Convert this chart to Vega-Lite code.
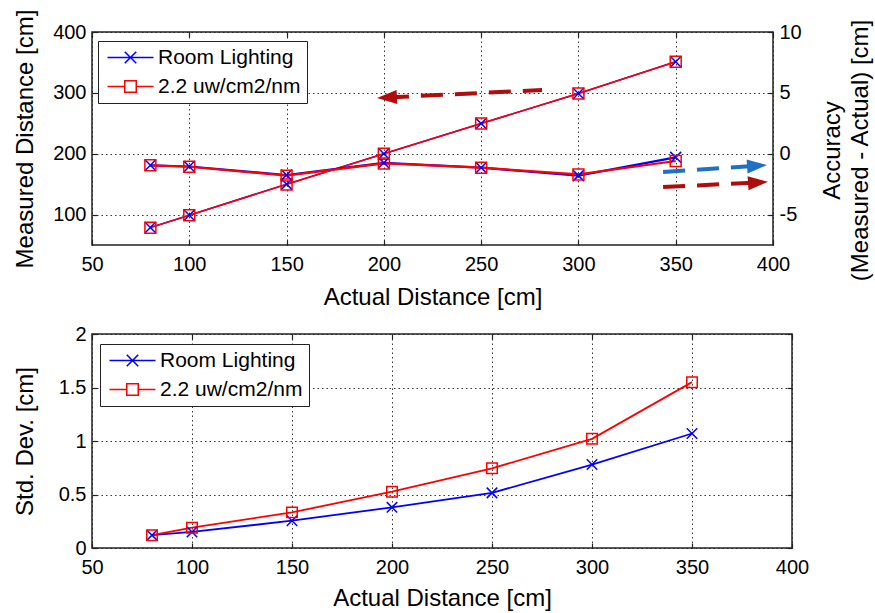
{
  "$schema": "https://vega.github.io/schema/vega-lite/v6.json",
  "padding": {"left": 12, "top": 8, "right": 2, "bottom": 2},
  "background": "white",
  "datasets": {
    "measured": [
      {"series": "Room Lighting", "actual": 80, "measured": 78.8},
      {"series": "Room Lighting", "actual": 100, "measured": 99},
      {"series": "Room Lighting", "actual": 150, "measured": 150},
      {"series": "Room Lighting", "actual": 200, "measured": 200},
      {"series": "Room Lighting", "actual": 250, "measured": 249.5},
      {"series": "Room Lighting", "actual": 300, "measured": 299},
      {"series": "Room Lighting", "actual": 350, "measured": 351},
      {"series": "2.2 uw/cm2/nm", "actual": 80, "measured": 78.5},
      {"series": "2.2 uw/cm2/nm", "actual": 100, "measured": 99},
      {"series": "2.2 uw/cm2/nm", "actual": 150, "measured": 149.5},
      {"series": "2.2 uw/cm2/nm", "actual": 200, "measured": 200},
      {"series": "2.2 uw/cm2/nm", "actual": 250, "measured": 249.5},
      {"series": "2.2 uw/cm2/nm", "actual": 300, "measured": 299},
      {"series": "2.2 uw/cm2/nm", "actual": 350, "measured": 351}
    ],
    "accuracy": [
      {"series": "Room Lighting", "actual": 80, "accuracy": -0.95},
      {"series": "Room Lighting", "actual": 100, "accuracy": -1.05},
      {"series": "Room Lighting", "actual": 150, "accuracy": -1.75},
      {"series": "Room Lighting", "actual": 200, "accuracy": -0.75},
      {"series": "Room Lighting", "actual": 250, "accuracy": -1.15},
      {"series": "Room Lighting", "actual": 300, "accuracy": -1.8},
      {"series": "Room Lighting", "actual": 350, "accuracy": -0.3},
      {"series": "2.2 uw/cm2/nm", "actual": 80, "accuracy": -0.95},
      {"series": "2.2 uw/cm2/nm", "actual": 100, "accuracy": -1.07},
      {"series": "2.2 uw/cm2/nm", "actual": 150, "accuracy": -1.8},
      {"series": "2.2 uw/cm2/nm", "actual": 200, "accuracy": -0.8},
      {"series": "2.2 uw/cm2/nm", "actual": 250, "accuracy": -1.15},
      {"series": "2.2 uw/cm2/nm", "actual": 300, "accuracy": -1.7},
      {"series": "2.2 uw/cm2/nm", "actual": 350, "accuracy": -0.6}
    ],
    "std": [
      {"series": "Room Lighting", "actual": 80, "std": 0.12},
      {"series": "Room Lighting", "actual": 100, "std": 0.15},
      {"series": "Room Lighting", "actual": 150, "std": 0.255},
      {"series": "Room Lighting", "actual": 200, "std": 0.38},
      {"series": "Room Lighting", "actual": 250, "std": 0.515},
      {"series": "Room Lighting", "actual": 300, "std": 0.78},
      {"series": "Room Lighting", "actual": 350, "std": 1.07},
      {"series": "2.2 uw/cm2/nm", "actual": 80, "std": 0.12},
      {"series": "2.2 uw/cm2/nm", "actual": 100, "std": 0.19},
      {"series": "2.2 uw/cm2/nm", "actual": 150, "std": 0.333},
      {"series": "2.2 uw/cm2/nm", "actual": 200, "std": 0.526},
      {"series": "2.2 uw/cm2/nm", "actual": 250, "std": 0.745},
      {"series": "2.2 uw/cm2/nm", "actual": 300, "std": 1.02},
      {"series": "2.2 uw/cm2/nm", "actual": 350, "std": 1.55}
    ],
    "arrows": [
      {"arrow": "a1", "x": 281.3, "y": 304.7},
      {"arrow": "a1", "x": 201.6, "y": 292.4},
      {"arrow": "a2", "x": 343.5, "y": 170},
      {"arrow": "a2", "x": 391.8, "y": 180.3},
      {"arrow": "a3", "x": 343.5, "y": 145.3},
      {"arrow": "a3", "x": 392.3, "y": 152.7}
    ],
    "heads": [
      {"arrow": "a1", "dir": "left", "x": 201.6, "y": 292.4},
      {"arrow": "a2", "dir": "right", "x": 391.8, "y": 180.3},
      {"arrow": "a3", "dir": "right", "x": 392.3, "y": 152.7}
    ]
  },
  "spacing": 13,
  "resolve": {"scale": {"color": "independent", "shape": "independent"}, "legend": {"color": "independent", "shape": "independent"}},
  "vconcat": [
    {
      "width": 681,
      "height": 213,
      "resolve": {"scale": {"y": "independent"}, "axis": {"x": "independent", "y": "independent"}},
      "layer": [
        {
          "data": {"name": "measured"},
          "mark": {"type": "line", "strokeWidth": 1.5},
          "encoding": {
            "x": {"field": "actual", "type": "quantitative", "scale": {"domain": [50, 400], "nice": false, "zero": false},
                  "axis": {"title": "Actual Distance [cm]", "values": [50, 100, 150, 200, 250, 300, 350, 400], "grid": true, "titleY": 52, "titleBaseline": "middle"}},
            "y": {"field": "measured", "type": "quantitative", "scale": {"domain": [50, 400], "nice": false, "zero": false},
                  "axis": {"title": "Measured Distance [cm]", "orient": "left", "values": [100, 200, 300, 400], "grid": true, "titleX": -67, "titleBaseline": "middle"}},
            "color": {"field": "series", "type": "nominal", "sort": ["Room Lighting", "2.2 uw/cm2/nm"], "scale": {"range": ["#0000ff", "#ff0000"]},
              "legend": {
                "title": null, "orient": "none", "legendX": 6, "legendY": 9, "direction": "vertical",
                "strokeColor": "#222", "fillColor": "white", "padding": 6, "cornerRadius": 0,
                "symbolSize": 132, "symbolStrokeWidth": 1.5, "symbolOffset": 16, "labelOffset": 17,
                "labelFontSize": 21, "labelFont": "Liberation Sans", "labelColor": "black", "rowPadding": 7, "labelLimit": 300,
                "encoding": {"symbols": {
                  "shape": {"value": {"expr": "datum.value === 'Room Lighting' ? 'M-4,0L4,0M-1,-1L1,1M1,-1L-1,1' : 'M-4,0L-1,0M1,0L4,0M-1,-1L1,-1L1,1L-1,1Z'"}},
                  "stroke": {"value": {"expr": "datum.value === 'Room Lighting' ? '#0000ff' : '#ff0000'"}},
                  "fill": {"value": "transparent"},
                  "strokeWidth": {"value": 1.5},
                  "opacity": {"value": 1}
                }}
              }}
          }
        },
        {
          "data": {"name": "measured"},
          "mark": {"type": "point", "filled": false, "size": 120, "strokeWidth": 1.5, "opacity": 1},
          "encoding": {
            "x": {"field": "actual", "type": "quantitative", "axis": null},
            "y": {"field": "measured", "type": "quantitative", "scale": {"domain": [50, 400], "nice": false, "zero": false}, "axis": null},
            "color": {"field": "series", "type": "nominal", "sort": ["Room Lighting", "2.2 uw/cm2/nm"], "scale": {"range": ["#0000ff", "#ff0000"]},
              "legend": {
                "title": null, "orient": "none", "legendX": 6, "legendY": 9, "direction": "vertical",
                "strokeColor": "#222", "fillColor": "white", "padding": 6, "cornerRadius": 0,
                "symbolSize": 132, "symbolStrokeWidth": 1.5, "symbolOffset": 16, "labelOffset": 17,
                "labelFontSize": 21, "labelFont": "Liberation Sans", "labelColor": "black", "rowPadding": 7, "labelLimit": 300,
                "encoding": {"symbols": {
                  "shape": {"value": {"expr": "datum.value === 'Room Lighting' ? 'M-4,0L4,0M-1,-1L1,1M1,-1L-1,1' : 'M-4,0L-1,0M1,0L4,0M-1,-1L1,-1L1,1L-1,1Z'"}},
                  "stroke": {"value": {"expr": "datum.value === 'Room Lighting' ? '#0000ff' : '#ff0000'"}},
                  "fill": {"value": "transparent"},
                  "strokeWidth": {"value": 1.5},
                  "opacity": {"value": 1}
                }}
              }},
            "shape": {"field": "series", "type": "nominal", "scale": {"domain": ["Room Lighting", "2.2 uw/cm2/nm"], "range": ["M-1,-1L1,1M1,-1L-1,1", "square"]}, "legend": null}
          }
        },
        {
          "data": {"name": "accuracy"},
          "mark": {"type": "line", "strokeWidth": 2.2},
          "encoding": {
            "x": {"field": "actual", "type": "quantitative", "axis": null},
            "y": {"field": "accuracy", "type": "quantitative", "scale": {"domain": [-7.5, 10], "nice": false, "zero": false},
                  "axis": {"orient": "right", "title": ["Accuracy", "(Measured - Actual) [cm]"], "values": [-5, 0, 5, 10], "labelExpr": "datum.value", "grid": false, "titleAngle": 270, "titleX": 59, "titleY": 118, "titleBaseline": "middle", "titleLineHeight": 28}},
            "color": {"field": "series", "type": "nominal", "sort": ["Room Lighting", "2.2 uw/cm2/nm"], "scale": {"range": ["#0000ff", "#ff0000"]},
              "legend": {
                "title": null, "orient": "none", "legendX": 6, "legendY": 9, "direction": "vertical",
                "strokeColor": "#222", "fillColor": "white", "padding": 6, "cornerRadius": 0,
                "symbolSize": 132, "symbolStrokeWidth": 1.5, "symbolOffset": 16, "labelOffset": 17,
                "labelFontSize": 21, "labelFont": "Liberation Sans", "labelColor": "black", "rowPadding": 7, "labelLimit": 300,
                "encoding": {"symbols": {
                  "shape": {"value": {"expr": "datum.value === 'Room Lighting' ? 'M-4,0L4,0M-1,-1L1,1M1,-1L-1,1' : 'M-4,0L-1,0M1,0L4,0M-1,-1L1,-1L1,1L-1,1Z'"}},
                  "stroke": {"value": {"expr": "datum.value === 'Room Lighting' ? '#0000ff' : '#ff0000'"}},
                  "fill": {"value": "transparent"},
                  "strokeWidth": {"value": 1.5},
                  "opacity": {"value": 1}
                }}
              }}
          }
        },
        {
          "data": {"name": "accuracy"},
          "mark": {"type": "point", "filled": false, "size": 120, "strokeWidth": 1.5, "opacity": 1},
          "encoding": {
            "x": {"field": "actual", "type": "quantitative", "axis": null},
            "y": {"field": "accuracy", "type": "quantitative", "scale": {"domain": [-7.5, 10], "nice": false, "zero": false}, "axis": null},
            "color": {"field": "series", "type": "nominal", "sort": ["Room Lighting", "2.2 uw/cm2/nm"], "scale": {"range": ["#0000ff", "#ff0000"]},
              "legend": {
                "title": null, "orient": "none", "legendX": 6, "legendY": 9, "direction": "vertical",
                "strokeColor": "#222", "fillColor": "white", "padding": 6, "cornerRadius": 0,
                "symbolSize": 132, "symbolStrokeWidth": 1.5, "symbolOffset": 16, "labelOffset": 17,
                "labelFontSize": 21, "labelFont": "Liberation Sans", "labelColor": "black", "rowPadding": 7, "labelLimit": 300,
                "encoding": {"symbols": {
                  "shape": {"value": {"expr": "datum.value === 'Room Lighting' ? 'M-4,0L4,0M-1,-1L1,1M1,-1L-1,1' : 'M-4,0L-1,0M1,0L4,0M-1,-1L1,-1L1,1L-1,1Z'"}},
                  "stroke": {"value": {"expr": "datum.value === 'Room Lighting' ? '#0000ff' : '#ff0000'"}},
                  "fill": {"value": "transparent"},
                  "strokeWidth": {"value": 1.5},
                  "opacity": {"value": 1}
                }}
              }},
            "shape": {"field": "series", "type": "nominal", "scale": {"domain": ["Room Lighting", "2.2 uw/cm2/nm"], "range": ["M-1,-1L1,1M1,-1L-1,1", "square"]}, "legend": null}
          }
        },
        {
          "data": {"name": "arrows"},
          "mark": {"type": "line", "strokeWidth": 4, "strokeDash": [22, 12]},
          "encoding": {
            "x": {"field": "x", "type": "quantitative", "axis": null},
            "y": {"field": "y", "type": "quantitative", "scale": {"domain": [50, 400], "nice": false, "zero": false}, "axis": null},
            "detail": {"field": "arrow"},
            "stroke": {"field": "arrow", "type": "nominal", "scale": {"domain": ["a1", "a2", "a3"], "range": ["#b00c0c", "#1f6fc4", "#b00c0c"]}, "legend": null}
          }
        },
        {
          "data": {"name": "heads"},
          "transform": [{"filter": "datum.dir === 'left'"}],
          "mark": {"type": "point", "filled": true, "size": 400, "strokeWidth": 0, "opacity": 1, "shape": "M-1,0L1,-0.7L1,0.7Z", "angle": 357},
          "encoding": {
            "x": {"field": "x", "type": "quantitative", "axis": null},
            "y": {"field": "y", "type": "quantitative", "scale": {"domain": [50, 400], "nice": false, "zero": false}, "axis": null},
            "fill": {"field": "arrow", "type": "nominal", "scale": {"domain": ["a1", "a2", "a3"], "range": ["#b00c0c", "#1f6fc4", "#b00c0c"]}, "legend": null}
          }
        },
        {
          "data": {"name": "heads"},
          "transform": [{"filter": "datum.dir === 'right'"}],
          "mark": {"type": "point", "filled": true, "size": 400, "strokeWidth": 0, "opacity": 1, "shape": "M1,0L-1,-0.7L-1,0.7Z", "angle": 356},
          "encoding": {
            "x": {"field": "x", "type": "quantitative", "axis": null},
            "y": {"field": "y", "type": "quantitative", "scale": {"domain": [50, 400], "nice": false, "zero": false}, "axis": null},
            "fill": {"field": "arrow", "type": "nominal", "scale": {"domain": ["a1", "a2", "a3"], "range": ["#b00c0c", "#1f6fc4", "#b00c0c"]}, "legend": null}
          }
        },
        {
          "data": {"name": "measured"},
          "mark": {"type": "point", "opacity": 0},
          "encoding": {
            "x": {"field": "actual", "type": "quantitative", "axis": {"orient": "top", "labels": false, "title": null, "grid": false, "values": [50, 100, 150, 200, 250, 300, 350, 400]}}
          }
        }
      ]
    },
    {
      "width": 700,
      "height": 214,
      "resolve": {"axis": {"x": "independent", "y": "independent"}},
      "layer": [
        {
          "data": {"name": "std"},
          "mark": {"type": "line", "strokeWidth": 1.8},
          "encoding": {
            "x": {"field": "actual", "type": "quantitative", "scale": {"domain": [50, 400], "nice": false, "zero": false},
                  "axis": {"title": "Actual Distance [cm]", "values": [50, 100, 150, 200, 250, 300, 350, 400], "grid": true, "titleY": 50, "titleBaseline": "middle"}},
            "y": {"field": "std", "type": "quantitative", "scale": {"domain": [0, 2], "nice": false},
                  "axis": {"title": "Std. Dev. [cm]", "orient": "left", "values": [0, 0.5, 1, 1.5, 2], "labelExpr": "datum.value", "grid": true, "titleX": -67, "titleBaseline": "middle"}},
            "color": {"field": "series", "type": "nominal", "sort": ["Room Lighting", "2.2 uw/cm2/nm"], "scale": {"range": ["#0000ff", "#ff0000"]},
              "legend": {
                "title": null, "orient": "none", "legendX": 8, "legendY": 10, "direction": "vertical",
                "strokeColor": "#222", "fillColor": "white", "padding": 6, "cornerRadius": 0,
                "symbolSize": 132, "symbolStrokeWidth": 1.5, "symbolOffset": 16, "labelOffset": 17,
                "labelFontSize": 21, "labelFont": "Liberation Sans", "labelColor": "black", "rowPadding": 7, "labelLimit": 300,
                "encoding": {"symbols": {
                  "shape": {"value": {"expr": "datum.value === 'Room Lighting' ? 'M-4,0L4,0M-1,-1L1,1M1,-1L-1,1' : 'M-4,0L-1,0M1,0L4,0M-1,-1L1,-1L1,1L-1,1Z'"}},
                  "stroke": {"value": {"expr": "datum.value === 'Room Lighting' ? '#0000ff' : '#ff0000'"}},
                  "fill": {"value": "transparent"},
                  "strokeWidth": {"value": 1.5},
                  "opacity": {"value": 1}
                }}
              }}
          }
        },
        {
          "data": {"name": "std"},
          "mark": {"type": "point", "filled": false, "size": 110, "strokeWidth": 1.5, "opacity": 1},
          "encoding": {
            "x": {"field": "actual", "type": "quantitative", "axis": null},
            "y": {"field": "std", "type": "quantitative", "axis": null},
            "color": {"field": "series", "type": "nominal", "sort": ["Room Lighting", "2.2 uw/cm2/nm"], "scale": {"range": ["#0000ff", "#ff0000"]},
              "legend": {
                "title": null, "orient": "none", "legendX": 8, "legendY": 10, "direction": "vertical",
                "strokeColor": "#222", "fillColor": "white", "padding": 6, "cornerRadius": 0,
                "symbolSize": 132, "symbolStrokeWidth": 1.5, "symbolOffset": 16, "labelOffset": 17,
                "labelFontSize": 21, "labelFont": "Liberation Sans", "labelColor": "black", "rowPadding": 7, "labelLimit": 300,
                "encoding": {"symbols": {
                  "shape": {"value": {"expr": "datum.value === 'Room Lighting' ? 'M-4,0L4,0M-1,-1L1,1M1,-1L-1,1' : 'M-4,0L-1,0M1,0L4,0M-1,-1L1,-1L1,1L-1,1Z'"}},
                  "stroke": {"value": {"expr": "datum.value === 'Room Lighting' ? '#0000ff' : '#ff0000'"}},
                  "fill": {"value": "transparent"},
                  "strokeWidth": {"value": 1.5},
                  "opacity": {"value": 1}
                }}
              }},
            "shape": {"field": "series", "type": "nominal", "scale": {"domain": ["Room Lighting", "2.2 uw/cm2/nm"], "range": ["M-1,-1L1,1M1,-1L-1,1", "square"]}, "legend": null}
          }
        },
        {
          "data": {"name": "std"},
          "mark": {"type": "point", "opacity": 0},
          "encoding": {
            "x": {"field": "actual", "type": "quantitative", "axis": {"orient": "top", "labels": false, "title": null, "grid": false, "values": [50, 100, 150, 200, 250, 300, 350, 400]}},
            "y": {"field": "std", "type": "quantitative", "axis": {"orient": "right", "labels": false, "title": null, "grid": false, "values": [0, 0.5, 1, 1.5, 2]}}
          }
        }
      ]
    }
  ],
  "config": {
    "font": "Liberation Sans",
    "view": {"stroke": "#222", "strokeWidth": 1.5},
    "axis": {
      "labelFont": "Liberation Sans", "labelFontSize": 20, "labelColor": "black",
      "titleFont": "Liberation Sans", "titleFontSize": 24, "titleFontWeight": "normal", "titleColor": "black",
      "domain": false, "ticks": true, "tickColor": "#222", "tickSize": -5, "tickWidth": 1.2, "labelPadding": 11,
      "gridColor": "#222", "gridDash": [1.5, 3], "gridOpacity": 0.9, "gridWidth": 1,
      "labelFlush": false, "labelOverlap": false
    },
    "axisX": {"labelPadding": 14}
  }
}
